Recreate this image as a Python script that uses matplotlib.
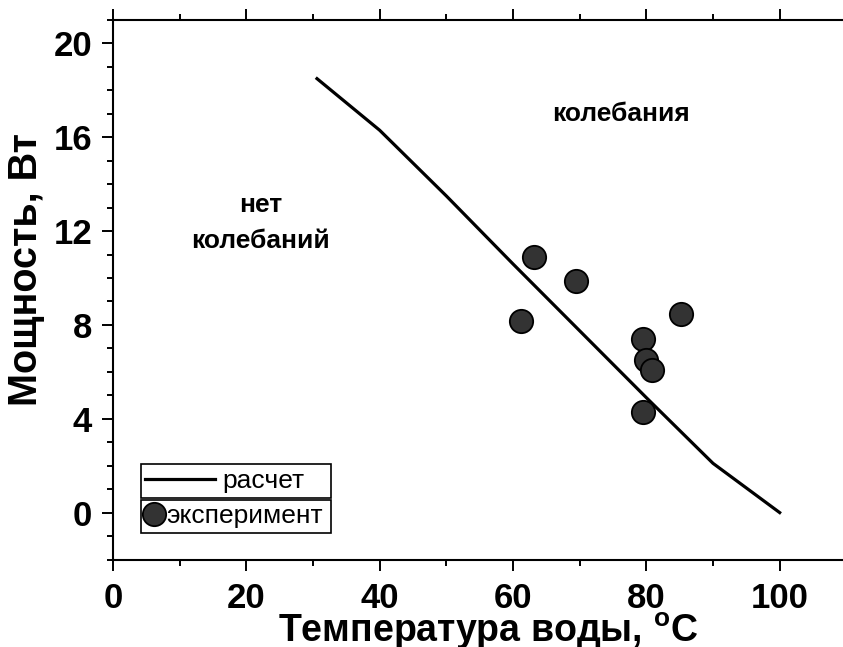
import matplotlib
matplotlib.use('Agg')
import matplotlib.pyplot as plt
from matplotlib.ticker import MultipleLocator
from matplotlib.lines import Line2D

plt.rcParams['font.family'] = ['Liberation Sans', 'DejaVu Sans']
plt.rcParams['mathtext.fontset'] = 'custom'
plt.rcParams['mathtext.rm'] = 'Liberation Sans:bold'
plt.rcParams['mathtext.it'] = 'Liberation Sans:bold'
plt.rcParams['mathtext.bf'] = 'Liberation Sans:bold'

# расчетная кривая
calc_t = [30.6, 40, 50, 60, 70, 80, 90, 100]
calc_p = [18.5, 16.3, 13.5, 10.6, 7.75, 4.9, 2.1, 0.0]

# эксперимент
exp_t = [61.2, 63.2, 69.5, 85.2, 79.5, 79.9, 80.9, 79.5]
exp_p = [8.18, 10.9, 9.87, 8.45, 7.42, 6.5, 6.1, 4.29]

fig = plt.figure(figsize=(8.43, 6.47), dpi=100)
ax = fig.add_axes([113 / 843, 87.5 / 647, 730 / 843, 539.5 / 647])

ax.plot(calc_t, calc_p, color='black', lw=2.3)
ax.plot(exp_t, exp_p, 'o', ls='none', ms=16.8, mfc='#333333', mec='black', mew=1.3)

ax.set_xlim(0, 109.5)
ax.set_ylim(-2, 21)

ax.xaxis.set_major_locator(MultipleLocator(20))
ax.xaxis.set_minor_locator(MultipleLocator(10))
ax.yaxis.set_major_locator(MultipleLocator(4))
ax.yaxis.set_minor_locator(MultipleLocator(1))

ax.spines['right'].set_visible(False)
for s in ['left', 'bottom', 'top']:
    ax.spines[s].set_linewidth(1.5)

ax.tick_params(axis='both', which='major', direction='out', length=8, width=1.4,
               labelsize=25)
ax.tick_params(axis='both', which='minor', direction='out', length=4.5, width=1.4)
ax.tick_params(axis='x', which='both', top=True, labeltop=False, pad=8)
ax.tick_params(axis='y', which='major', pad=7)
for lbl in ax.get_xticklabels() + ax.get_yticklabels():
    lbl.set_fontweight('bold')

ax.set_xlabel('Температура воды, $^{\\mathrm{o}}$C', fontsize=27, fontweight='bold')
ax.set_ylabel('Мощность, Вт', fontsize=28.5, fontweight='bold')
ax.xaxis.set_label_coords(0.514, -0.094)
ax.yaxis.set_label_coords(-0.093, 0.537)

ax.text(76.2, 17.0, 'колебания', fontsize=19, fontweight='bold', ha='center', va='center')
ax.text(22.1, 12.35, 'нет\nколебаний', fontsize=19, fontweight='bold', ha='center',
        va='center', linespacing=1.6)

# легенда: две строки, каждая в своей рамке
h1 = Line2D([], [], color='black', lw=2.3)
h2 = Line2D([], [], marker='o', ls='none', ms=16.8, mfc='#333333', mec='black', mew=1.3)
leg1 = ax.legend([h1], ['расчет'], loc='lower left', mode='expand',
                 bbox_to_anchor=(0.038, 0.114, 0.260, 0.06), borderaxespad=0,
                 fontsize=19, frameon=True, fancybox=False, edgecolor='black',
                 framealpha=1, handlelength=2.62, handletextpad=0.3, borderpad=0.18)
leg1.get_frame().set_linewidth(1.2)
ax.add_artist(leg1)
leg2 = ax.legend([h2], ['эксперимент'], loc='lower left', mode='expand',
                 bbox_to_anchor=(0.038, 0.049, 0.260, 0.06), borderaxespad=0,
                 fontsize=19, frameon=True, fancybox=False, edgecolor='black',
                 framealpha=1, handlelength=0.62, handletextpad=0.18, borderpad=0.18)
leg2.get_frame().set_linewidth(1.2)

fig.savefig('out.png', dpi=100)
